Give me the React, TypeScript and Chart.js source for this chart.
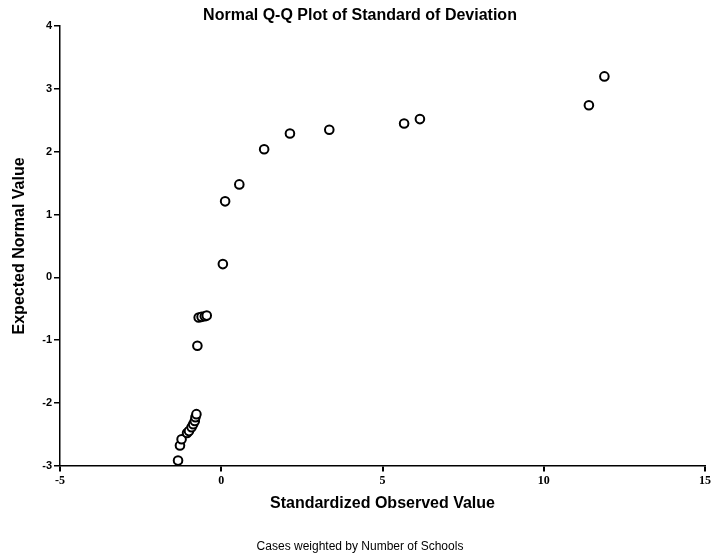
import React, { useEffect, useRef } from "react";
import { Chart, registerables } from "chart.js";

Chart.register(...registerables);

const TITLE = "Normal Q-Q Plot of Standard of Deviation";
const X_TITLE = "Standardized Observed Value";
const Y_TITLE = "Expected Normal Value";
const FOOTNOTE = "Cases weighted by Number of Schools";

const observed = [
  -1.34, -1.28, -1.23, -1.06, -1.0, -0.92, -0.87, -0.82, -0.8, -0.77,
  -0.74, -0.7, -0.61, -0.51, -0.45, 0.05, 0.12, 0.56, 1.33, 2.13, 3.35,
  5.67, 6.16, 11.4, 11.88,
];
const expected = [
  -2.92, -2.68, -2.58, -2.48, -2.45, -2.39, -2.34, -2.29, -2.23, -2.18,
  -1.09, -0.64, -0.63, -0.62, -0.61, 0.21, 1.21, 1.48, 2.04, 2.29, 2.35,
  2.45, 2.52, 2.74, 3.2,
];

const X_MIN = -5;
const X_MAX = 15;
const X_STEP = 5;
const Y_MIN = -3;
const Y_MAX = 4;
const Y_STEP = 1;

export default function App() {
  const ref = useRef<HTMLCanvasElement | null>(null);
  useEffect(() => {
    if (!ref.current) return;
    const pts = observed.map((x, i) => ({ x, y: expected[i] }));
    const chart = new Chart(ref.current, {
      type: "scatter",
      data: {
        datasets: [
          {
            data: pts,
            pointRadius: 4.3,
            pointHoverRadius: 4.3,
            borderColor: "#000",
            backgroundColor: "#fff",
            borderWidth: 2,
          },
        ],
      },
      options: {
        animation: false,
        responsive: false,
        layout: { padding: { left: 15, right: 10, top: 0, bottom: 0 } },
        plugins: {
          legend: { display: false },
          tooltip: { enabled: false },
          title: {
            display: true,
            text: TITLE,
            color: "#000",
            font: { family: "Liberation Sans, Arial", size: 16, weight: "bold" },
            padding: { top: 6, bottom: 1 },
          },
          subtitle: {
            display: true,
            text: FOOTNOTE,
            position: "bottom",
            color: "#000",
            font: { family: "Liberation Sans, Arial", size: 12, weight: "normal" },
            padding: { top: 0, bottom: 3 },
          },
        },
        scales: {
          x: {
            type: "linear",
            min: X_MIN,
            max: X_MAX,
            ticks: {
              stepSize: X_STEP,
              color: "#000",
              font: { family: "Liberation Serif, Times New Roman", size: 12, weight: "bold" },
              padding: 2,
              maxRotation: 0,
            },
            grid: {
              display: true,
              drawOnChartArea: false,
              drawTicks: true,
              tickLength: 6,
              color: "#000",
              lineWidth: 2,
            },
            border: { display: true, color: "#000", width: 1.5 },
            title: {
              display: true,
              text: X_TITLE,
              color: "#000",
              font: { family: "Liberation Sans, Arial", size: 16, weight: "bold" },
              padding: { top: 0, bottom: 26 },
            },
            afterFit: (s: any) => {
              s.height = 74;
            },
          },
          y: {
            type: "linear",
            min: Y_MIN,
            max: Y_MAX,
            ticks: {
              stepSize: Y_STEP,
              color: "#000",
              font: { family: "Liberation Sans, Arial", size: 11, weight: "bold" },
              padding: 2,
            },
            grid: {
              display: true,
              drawOnChartArea: false,
              drawTicks: true,
              tickLength: 6,
              color: "#000",
              lineWidth: 1.5,
            },
            border: { display: true, color: "#000", width: 1.5 },
            title: {
              display: true,
              text: Y_TITLE,
              color: "#000",
              font: { family: "Liberation Sans, Arial", size: 16, weight: "bold" },
              padding: { top: -5, bottom: 0 },
            },
            afterFit: (s: any) => {
              s.width = 45;
            },
          },
        },
      },
    });
    return () => chart.destroy();
  }, []);
  return (
    <div style={{ position: "fixed", left: 0, top: 0, width: 715, height: 557, background: "#fff" }}>
      <canvas ref={ref} width={715} height={557} style={{ width: 715, height: 557 }} />
    </div>
  );
}
